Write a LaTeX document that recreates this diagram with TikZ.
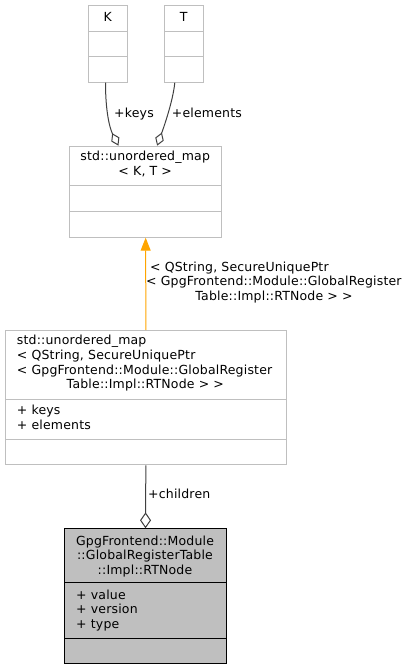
\documentclass[tikz,border=0pt]{standalone}
\usepackage{fontspec}
\setmainfont{DejaVu Sans}[LetterSpace=1.5]
\usetikzlibrary{arrows.meta,calc}
\definecolor{boxgray}{HTML}{BFBFBF}
\definecolor{edgegray}{HTML}{404040}
\definecolor{tplorange}{HTML}{FFA500}
\tikzset{
  umlbox/.style={draw=boxgray, line width=1pt, fill=white, inner sep=0pt, anchor=north west},
  curbox/.style={draw=black, line width=1pt, fill=boxgray, inner sep=0pt, anchor=north west},
  divg/.style={draw=boxgray, line width=1pt},
  divk/.style={draw=black, line width=1pt},
  txt/.style={inner sep=0pt, font=\fontsize{12.5}{14.5}\selectfont},
  aggr/.style={draw=edgegray, line width=1pt, -{Diamond[open,length=14pt,width=9pt]}},
  tmpl/.style={draw=tplorange, line width=1pt, -{Triangle[length=13pt,width=10pt,fill=tplorange]}},
}
\begin{document}
\begin{tikzpicture}[x=1pt,y=-1pt]
\useasboundingbox (0,0) rectangle (409,669);
% boxes
\node[umlbox, minimum width=39pt, minimum height=76.7pt] (K) at (88.3,5) {};
\node[umlbox, minimum width=39pt, minimum height=76.7pt] (T) at (164.3,5) {};
\node[umlbox, minimum width=152.3pt, minimum height=91pt] (UM) at (69,145.7) {};
\node[umlbox, minimum width=280.7pt, minimum height=134.3pt] (MID) at (5,330) {};
\node[curbox, minimum width=162pt, minimum height=135pt] (RT) at (64,528.3) {};
% dividers
\draw[divg] ($(K.north west)+(0,26.7)$) -- ($(K.north east)+(0,26.7)$);
\draw[divg] ($(K.north west)+(0,51.7)$) -- ($(K.north east)+(0,51.7)$);
\draw[divg] ($(T.north west)+(0,26.7)$) -- ($(T.north east)+(0,26.7)$);
\draw[divg] ($(T.north west)+(0,51.7)$) -- ($(T.north east)+(0,51.7)$);
\draw[divg] ($(UM.north west)+(0,40)$) -- ($(UM.north east)+(0,40)$);
\draw[divg] ($(UM.north west)+(0,65.3)$) -- ($(UM.north east)+(0,65.3)$);
\draw[divg] ($(MID.north west)+(0,69)$) -- ($(MID.north east)+(0,69)$);
\draw[divg] ($(MID.north west)+(0,109.3)$) -- ($(MID.north east)+(0,109.3)$);
\draw[divk] ($(RT.north west)+(0,54.4)$) -- ($(RT.north east)+(0,54.4)$);
\draw[divk] ($(RT.north west)+(0,110)$) -- ($(RT.north east)+(0,110)$);
% texts
\node[txt, anchor=base] (Kt) at (107.8,21.5) {K};
\node[txt, anchor=base] (Tt) at (183.8,21.5) {T};
\node[txt, anchor=base] (UMt1) at (145.2,160.5) {std::unordered\_map};
\node[txt, anchor=base] (UMt2) at (145.2,175.5) {< K, T >};
\node[txt, anchor=base west] (MIDt1) at (16.7,344.5) {std::unordered\_map};
\node[txt, anchor=base west] (MIDt2) at (16.7,359) {< QString, SecureUniquePtr};
\node[txt, anchor=base west] (MIDt3) at (16.7,374) {< GpgFrontend::Module::GlobalRegister};
\node[txt, anchor=base] (MIDt4) at (145.3,388.5) {Table::Impl::RTNode > >};
\node[txt, anchor=base west] (MIDa1) at (16.7,414.5) {+ keys};
\node[txt, anchor=base west] (MIDa2) at (16.7,429) {+ elements};
\node[txt, anchor=base] (RTt1) at (145,545) {GpgFrontend::Module};
\node[txt, anchor=base] (RTt2) at (145,559.5) {::GlobalRegisterTable};
\node[txt, anchor=base] (RTt3) at (145,574) {::Impl::RTNode};
\node[txt, anchor=base west] (RTa1) at (76,599) {+ value};
\node[txt, anchor=base west] (RTa2) at (76,613.5) {+ version};
\node[txt, anchor=base west] (RTa3) at (76,628) {+ type};
% edges
\draw[aggr] ([xshift=-2.8pt]K.south) .. controls +(0,28) and +(-9,-18) .. ([xshift=-27.2pt]UM.north);
\draw[aggr] ([xshift=-9.5pt]T.south) .. controls +(-2,20) and +(5,-14) .. ([xshift=11.5pt]UM.north);
\draw[tmpl] (MID.north) -- (UM.south);
\draw[aggr, -{Diamond[open,length=16pt,width=11pt]}] (MID.south) -- (RT.north);
% edge labels
\node[txt, anchor=base west] (lk) at (114,117) {+keys};
\node[txt, anchor=base west] (le) at (171.7,117) {+elements};
\node[txt, anchor=base west] (lt1) at (150,271) {< QString, SecureUniquePtr};
\node[txt, anchor=base west] (lt2) at (146,285.5) {< GpgFrontend::Module::GlobalRegister};
\node[txt, anchor=base] (lt3) at (274,300) {Table::Impl::RTNode > >};
\node[txt, anchor=base west] (lc) at (148,498.5) {+children};
\end{tikzpicture}
\end{document}
